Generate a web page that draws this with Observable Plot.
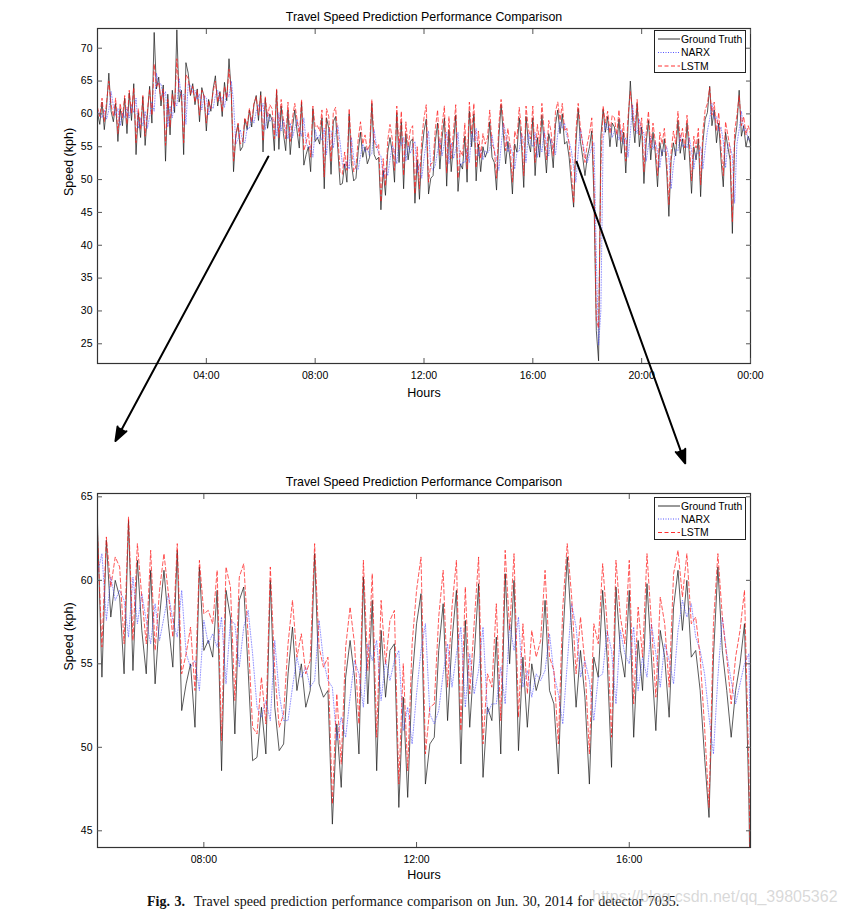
<!DOCTYPE html>
<html><head><meta charset="utf-8">
<script src="https://cdn.jsdelivr.net/npm/d3@7"></script>
<script src="https://cdn.jsdelivr.net/npm/@observablehq/plot@0.6"></script>
<style>
body{margin:0;background:#fff;}
#wrap{position:relative;width:844px;height:918px;overflow:hidden;font-family:"Liberation Sans",Arial,sans-serif;}
#wrap svg.plotsvg{position:absolute;left:0;}
.legend{position:absolute;left:654px;width:90px;height:41px;border:1px solid #222;background:#fff;}
.legend svg{display:block;}
.caption{position:absolute;left:147px;top:894px;font-family:"Liberation Serif","Times New Roman",serif;font-size:14px;color:#111;white-space:nowrap;word-spacing:1px;}
.wm{position:absolute;left:592px;top:888px;font-family:"Liberation Sans",Arial,sans-serif;font-size:16px;color:rgba(185,185,185,0.55);white-space:nowrap;}
</style></head>
<body><div id="wrap"></div>
<script>
// 5-minute samples from 00:00 to 24:00 (kph)
const groundTruth = [
60.2,58.4,61.8,57.6,61.0,66.2,60.4,58.8,61.6,55.8,60.8,58.2,
62.4,57.0,63.2,59.0,64.6,53.8,60.2,56.4,62.6,55.2,59.8,64.2,
58.6,72.4,63.8,65.6,61.2,64.4,52.8,63.0,56.8,63.6,60.2,72.8,
61.8,63.6,53.8,67.8,66.2,62.8,64.6,61.4,63.8,58.8,64.0,62.6,
57.4,62.2,60.4,63.8,65.8,61.2,63.4,59.6,64.8,62.0,68.4,63.2,
51.2,56.8,58.4,54.4,55.0,59.2,57.6,60.6,58.0,61.4,62.8,59.0,
63.4,54.2,62.4,57.8,60.0,59.0,54.4,63.6,54.6,61.2,57.0,54.4,
60.6,53.8,57.8,60.6,57.4,54.8,61.8,52.2,53.8,55.0,51.2,60.8,
55.8,56.4,55.4,59.4,48.6,59.4,57.8,50.8,58.8,59.6,54.6,49.2,
49.4,52.4,49.6,60.0,52.4,49.8,50.2,54.4,57.2,53.4,55.0,52.4,
53.4,61.6,53.8,53.0,53.4,45.4,51.4,47.6,54.2,56.4,54.2,49.6,
60.2,52.6,58.8,48.6,57.0,53.0,55.8,56.2,46.4,53.0,47.0,54.0,
57.4,59.2,47.8,50.2,50.6,55.8,58.6,51.6,56.4,59.4,49.0,57.6,
51.2,55.4,59.8,48.2,52.4,51.6,56.6,49.6,60.4,55.0,60.0,49.8,
55.4,51.2,55.0,53.4,54.4,58.8,53.4,52.6,48.4,56.4,61.4,57.0,
52.4,55.8,53.0,47.8,55.4,54.2,59.4,55.4,48.8,59.6,55.8,54.2,
59.4,50.6,56.4,53.4,59.8,55.4,51.0,57.0,55.4,51.8,58.4,60.6,
57.0,60.0,55.4,55.8,53.4,49.4,45.8,55.4,60.8,55.8,53.4,50.6,
53.4,55.0,57.4,46.8,27.0,22.4,56.6,60.7,57.2,59.6,55.0,58.6,
58.0,55.0,59.2,54.0,57.2,51.0,58.2,65.0,59.2,55.6,61.6,55.0,
58.0,49.4,55.6,59.0,53.0,57.2,54.0,48.9,55.6,53.6,56.2,51.6,
44.4,53.0,55.6,53.6,59.0,54.0,56.2,53.0,58.6,54.0,47.9,55.0,
53.0,56.2,47.4,55.6,59.2,60.2,64.2,58.2,60.6,55.6,58.6,53.0,
48.9,57.2,55.0,53.0,41.8,55.6,58.2,63.6,56.6,58.2,55.0,56.6,55.4
];
const narx = [
60.6,60.0,59.4,60.6,59.2,60.6,63.4,61.2,59.8,60.8,58.2,60.2,
59.4,61.0,59.4,61.4,60.2,62.4,57.8,59.4,58.2,60.4,57.8,59.6,
61.8,60.4,66.2,64.4,64.6,62.6,63.4,58.0,61.2,59.4,61.8,61.2,
65.4,62.6,63.0,58.4,64.6,64.4,63.2,63.6,62.2,63.0,60.6,62.8,
62.4,59.8,61.2,60.8,62.8,63.6,62.0,62.6,61.0,63.2,62.6,65.0,
61.8,55.4,56.2,57.6,55.8,55.6,57.8,57.8,59.4,58.6,60.4,61.4,
60.4,61.6,57.6,60.2,58.8,59.4,58.8,56.6,60.2,57.4,59.2,57.6,
56.2,58.6,56.4,57.8,59.2,57.6,56.6,59.4,55.6,54.8,55.2,53.4,
57.6,56.2,56.8,56.0,57.8,53.8,57.6,57.4,54.8,57.2,58.2,55.6,
52.4,51.8,52.8,51.6,56.4,53.2,51.6,51.6,53.6,55.4,54.2,54.8,
53.6,54.0,57.6,55.2,54.0,53.6,50.4,51.8,50.6,53.0,55.2,54.4,
52.4,56.2,55.2,56.4,52.8,55.2,54.0,55.2,55.8,51.0,52.4,50.2,
53.2,55.8,57.4,52.0,51.4,52.2,54.4,56.2,53.6,55.6,57.2,52.4,
55.6,53.2,54.6,57.2,52.0,52.6,52.6,54.8,52.6,57.4,55.8,57.8,
53.6,54.6,53.0,54.4,54.0,54.6,56.8,54.4,53.2,51.4,55.0,58.6,
57.2,54.2,55.2,54.0,51.6,54.2,54.4,57.0,55.8,52.6,57.0,55.6,
55.0,57.2,53.4,55.4,54.2,57.4,55.6,53.6,56.2,55.2,53.8,57.0,
58.8,57.8,58.6,56.6,55.8,54.4,51.8,49.6,54.2,57.8,55.6,54.0,
52.6,53.8,55.0,55.6,38.0,24.8,30.0,56.0,58.6,57.6,58.4,56.4,
57.4,57.2,56.0,57.6,55.4,56.4,53.4,57.0,61.4,58.0,57.0,59.2,
57.0,57.2,52.8,55.2,56.6,54.6,55.8,54.4,51.8,54.6,54.2,55.0,
53.4,48.6,52.2,54.6,54.4,56.8,55.0,55.4,54.8,56.4,54.4,51.6,
54.0,54.0,55.0,51.6,54.6,57.4,59.2,61.6,59.2,59.6,57.4,58.0,
55.8,51.8,55.4,55.0,53.6,46.4,55.4,57.6,60.4,57.4,57.8,56.0,56.4
];
const lstm = [
61.0,59.6,62.4,58.8,61.8,65.0,61.4,59.6,62.4,57.0,61.6,59.4,
62.8,58.4,63.6,60.0,64.0,55.6,60.8,57.6,62.8,56.6,60.4,63.8,
59.8,67.6,64.2,64.8,62.0,63.8,55.2,62.2,58.0,63.0,61.0,68.4,
63.4,63.2,55.6,66.0,65.4,63.0,64.2,61.8,63.6,59.8,63.6,62.8,
58.6,62.0,60.8,63.4,65.0,61.8,63.2,60.4,64.2,62.4,66.8,63.4,
52.8,56.4,58.6,55.4,55.8,59.4,58.2,60.8,58.8,61.6,62.6,59.8,
62.8,56.0,62.6,59.6,61.4,60.8,56.2,63.8,56.4,62.2,59.0,56.2,
61.8,55.8,59.4,61.6,59.2,56.6,62.2,54.4,55.6,57.2,53.4,61.2,
58.0,58.2,57.4,60.6,50.4,60.8,59.6,52.8,60.2,61.0,56.6,51.2,
50.8,54.2,51.4,60.8,54.6,51.2,52.0,56.2,58.8,55.4,56.8,54.4,
55.2,62.2,56.0,54.8,55.4,46.6,53.2,49.0,56.0,58.4,56.2,51.4,
61.2,54.6,60.4,50.6,58.8,55.0,57.6,58.2,47.8,55.0,48.6,56.2,
59.4,61.4,49.6,52.4,52.6,57.8,60.6,53.6,58.4,61.2,51.0,59.6,
53.2,57.4,61.4,50.2,54.4,53.6,58.6,51.6,61.8,57.0,61.6,51.8,
57.4,53.2,57.0,55.4,56.4,60.6,55.4,54.6,50.2,58.4,62.2,59.0,
54.4,57.8,55.0,49.6,57.4,56.2,61.0,57.4,50.6,61.2,57.8,56.2,
61.2,52.6,58.4,55.4,61.6,57.4,53.0,59.0,57.4,53.6,60.4,61.8,
59.0,61.6,57.4,57.8,55.4,51.2,46.4,57.4,61.6,57.8,55.4,52.6,
55.4,57.0,59.4,48.6,28.6,27.4,52.0,61.2,58.6,60.4,57.0,59.8,
59.4,56.8,60.6,55.8,58.6,52.8,59.6,63.4,60.4,57.4,62.2,56.8,
59.4,51.2,57.2,60.4,54.8,58.6,55.8,50.6,57.2,55.4,57.8,53.4,
46.2,54.2,57.4,55.4,60.4,55.8,57.8,54.8,59.8,55.8,49.8,56.6,
54.8,57.8,49.2,57.4,60.6,61.6,64.0,59.8,61.8,57.4,60.2,54.8,
50.6,58.8,56.8,54.8,43.6,57.4,59.8,62.8,58.2,59.6,56.8,58.2,57.0
];
const stepMinutes = 5;
const seriesNames = ["Ground Truth", "NARX", "LSTM"];
const chartTitle = "Travel Speed Prediction Performance Comparison";
const xTitle = "Hours";
const yTitle = "Speed (kph)";
const topXTicks = [4, 8, 12, 16, 20, 24];
const topXLabels = ["04:00", "08:00", "12:00", "16:00", "20:00", "00:00"];
const topYTicks = [25, 30, 35, 40, 45, 50, 55, 60, 65, 70];
const zoomXTicks = [8, 12, 16];
const zoomXLabels = ["08:00", "12:00", "16:00"];
const zoomYTicks = [45, 50, 55, 60, 65];
// zoom-window annotation arrows (hours, kph in the top panel)
const zoomArrows = [
  {x1: 6.28, y1: 53.5, x2: 0.66, y2: 10.2},
  {x1: 17.61, y1: 52.7, x2: 21.6, y2: 6.8}
];
const captionBold = "Fig. 3.";
const captionText = "Travel speed prediction performance comparison on Jun. 30, 2014 for detector 7035.";
const watermark = "https://blog.csdn.net/qq_39805362";

if (narx.length !== groundTruth.length || lstm.length !== groundTruth.length)
  throw new Error("length mismatch " + groundTruth.length + " " + narx.length + " " + lstm.length);

const rows = groundTruth.map((v, i) => ({t: i * stepMinutes / 60, gt: v, narx: narx[i], lstm: lstm[i]}));

const font = "Liberation Sans, Arial, sans-serif";

function panel({xDomain, yDomain, xTicks, xLabels, yTicks, height, marginTop, marginBottom, data, hoursDy, extra = []}) {
  const lab = new Map(xTicks.map((d, i) => [d, xLabels[i]]));
  return Plot.plot({
    width: 844, height, marginLeft: 97, marginRight: 94, marginTop, marginBottom,
    style: {fontFamily: font, fontSize: "10.5px", color: "#000", background: "transparent", overflow: "visible"},
    x: {domain: xDomain},
    y: {domain: yDomain},
    marks: [
      Plot.lineY(data, {x: "t", y: "gt", stroke: "#1a1a1a", strokeWidth: 0.9, strokeOpacity: 0.8, clip: true}),
      Plot.lineY(data, {x: "t", y: "narx", stroke: "#3b3bff", strokeWidth: 0.9, strokeDasharray: "1,1.6", strokeOpacity: 0.6, clip: true}),
      Plot.lineY(data, {x: "t", y: "lstm", stroke: "#ff1a1a", strokeWidth: 0.9, strokeDasharray: "4,2.5", strokeOpacity: 0.8, clip: true}),
      Plot.frame({stroke: "#333", strokeWidth: 1.2}),
      Plot.axisX(xTicks, {anchor: "bottom", tickSize: -5, tickPadding: 13, tickFormat: d => lab.get(d), label: null, stroke: "#555"}),
      Plot.axisX(xTicks, {anchor: "top", tickSize: -5, tickFormat: () => "", label: null, stroke: "#555"}),
      Plot.axisY(yTicks, {anchor: "left", tickSize: -5, tickPadding: 10, label: null, stroke: "#555"}),
      Plot.axisY(yTicks, {anchor: "right", tickSize: -5, tickFormat: () => "", label: null, stroke: "#555"}),
      Plot.text([chartTitle], {text: d => d, frameAnchor: "top", dy: -16, fontSize: 12.4, fill: "#000"}),
      Plot.text([xTitle], {text: d => d, frameAnchor: "bottom", dy: hoursDy, fontSize: 12.5, fill: "#000"}),
      Plot.text([yTitle], {text: d => d, frameAnchor: "left", dx: -29, rotate: -90, fontSize: 12.5, fill: "#000"}),
      ...extra
    ]
  });
}

const wrap = document.getElementById("wrap");

const zoomRows = rows.filter(d => d.t >= 5.9 && d.t <= 18.4);
const bottomSvg = panel({
  xDomain: [6, 18.28], yDomain: [44, 65.2], xTicks: zoomXTicks, xLabels: zoomXLabels, yTicks: zoomYTicks,
  height: 425, marginTop: 33, marginBottom: 38, data: zoomRows, hoursDy: 31
});
bottomSvg.classList.add("plotsvg");
bottomSvg.style.top = "460px";
wrap.appendChild(bottomSvg);

const topSvg = panel({
  xDomain: [0, 24], yDomain: [22, 73], xTicks: topXTicks, xLabels: topXLabels, yTicks: topYTicks,
  height: 470, marginTop: 28, marginBottom: 107, data: rows, hoursDy: 33,
  extra: [Plot.arrow(zoomArrows, {x1: "x1", y1: "y1", x2: "x2", y2: "y2", stroke: "#000", strokeWidth: 2, headLength: 11, headAngle: 40})]
});
topSvg.classList.add("plotsvg");
topSvg.style.top = "0px";
wrap.appendChild(topSvg);
topSvg.querySelectorAll('g[aria-label="arrow"] path').forEach(p => p.setAttribute("fill", "#000"));

function legend(topPx, rowsY) {
  const div = document.createElement("div");
  div.className = "legend";
  div.style.top = topPx + "px";
  const styles = [
    {stroke: "#333", dash: null, w: 1},
    {stroke: "#5555ff", dash: "1,1.5", w: 1},
    {stroke: "#ff3030", dash: "4,2.5", w: 1}
  ];
  let s = '<svg width="90" height="41" xmlns="http://www.w3.org/2000/svg">';
  seriesNames.forEach((name, i) => {
    const st = styles[i], y = rowsY[i];
    s += `<line x1="3" x2="25" y1="${y}" y2="${y}" stroke="${st.stroke}" stroke-width="${st.w}"${st.dash ? ` stroke-dasharray="${st.dash}"` : ""}/>`;
    s += `<text x="26" y="${y}" dy="0.35em" font-family="${font}" font-size="10.4" fill="#000">${name}</text>`;
  });
  s += "</svg>";
  div.innerHTML = s;
  wrap.appendChild(div);
}
legend(30, [8, 21.5, 35]);
legend(497, [8, 21, 34.5]);

const cap = document.createElement("div");
cap.className = "caption";
cap.innerHTML = `<b>${captionBold}</b>&nbsp; ${captionText}`;
wrap.appendChild(cap);

const wm = document.createElement("div");
wm.className = "wm";
wm.textContent = watermark;
wrap.appendChild(wm);
</script>
</body></html>
